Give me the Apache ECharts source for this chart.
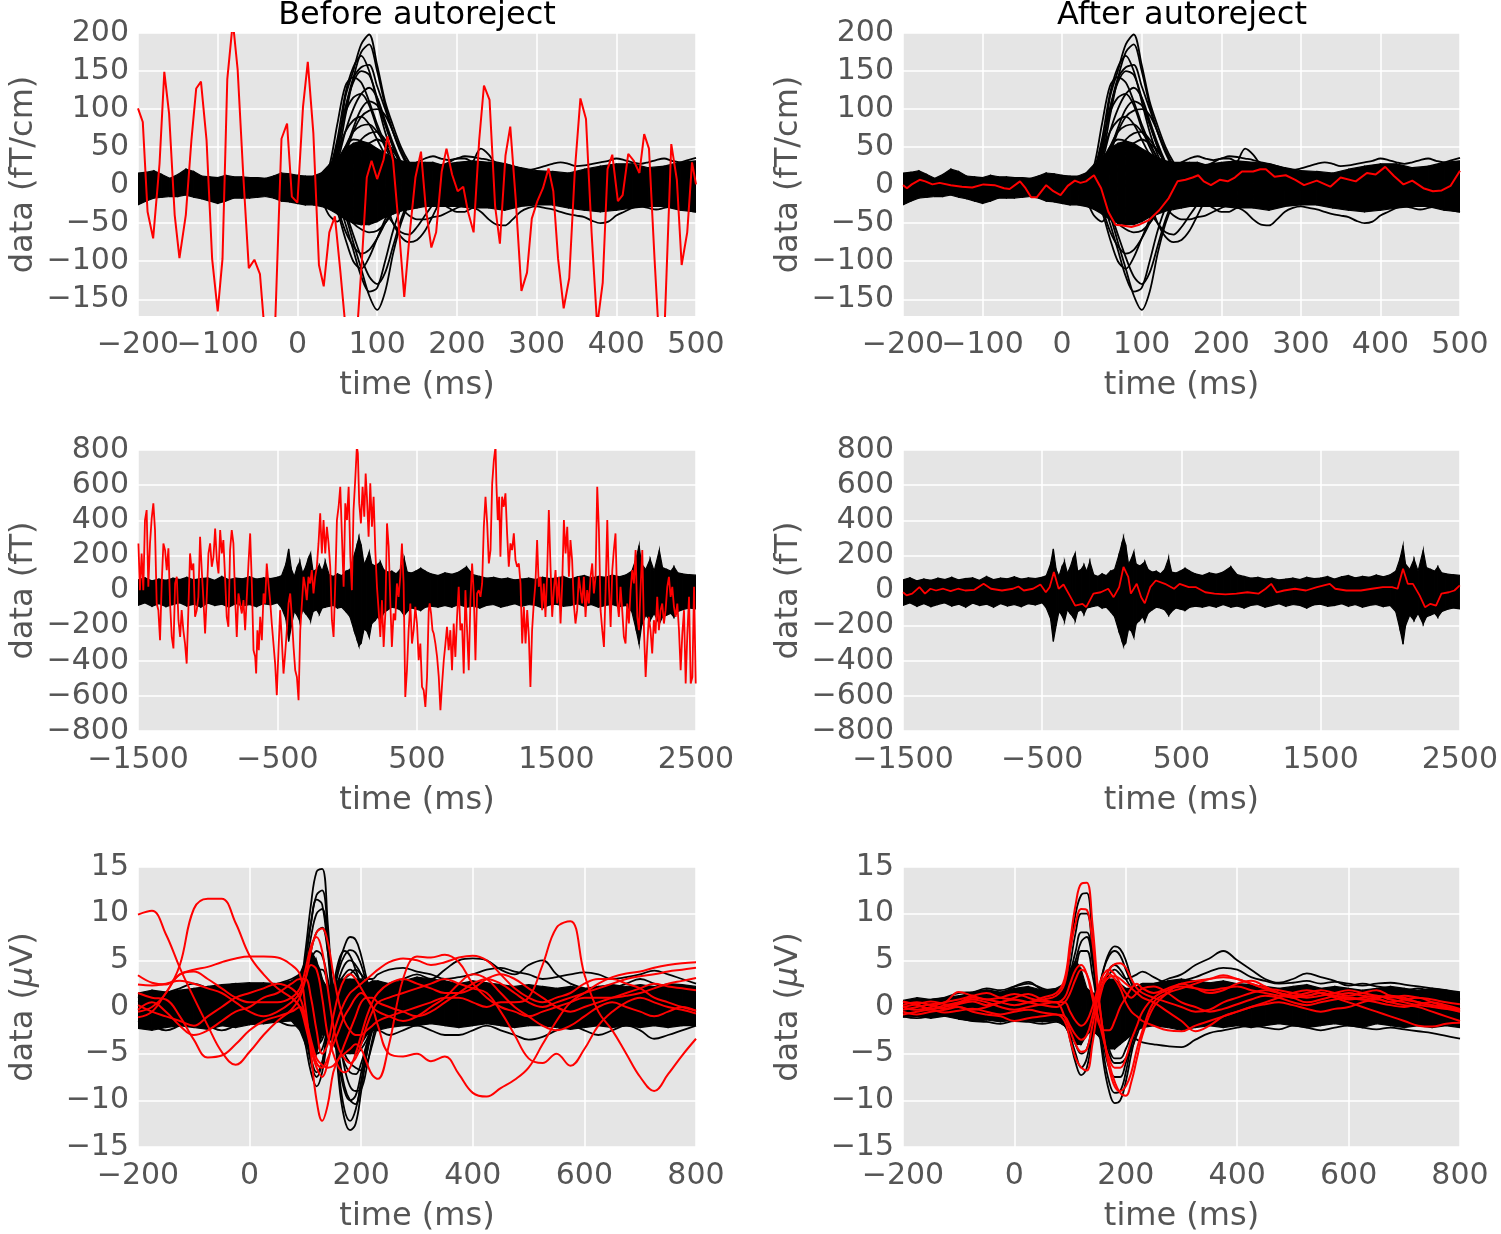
<!DOCTYPE html>
<html><head><meta charset="utf-8">
<script src="https://cdn.jsdelivr.net/npm/echarts@6/dist/echarts.min.js"></script>
<style>html,body{margin:0;padding:0;background:#fff}#c{width:1501px;height:1234px}</style>
</head><body><div id="c"></div>
<script>
// ---------------- Tick labels ----------------
const xTicksTop = [-200,-100,0,100,200,300,400,500];
const yTicksTop = [-150,-100,-50,0,50,100,150,200];
const xTicksMid = [-1500,-500,500,1500,2500];
const yTicksMid = [-800,-600,-400,-200,0,200,400,600,800];
const xTicksBot = [-200,0,200,400,600,800];
const yTicksBot = [-15,-10,-5,0,5,10,15];

// ---------------- Top row (fT/cm) ----------------
const tBandTop = [-200,-190,-180,-170,-160,-150,-140,-130,-120,-110,-100,-90,-80,-70,-60,-50,-40,-30,-20,-10,0,10,20,30,40,50,60,70,80,90,100,110,120,130,140,150,160,170,180,200,220,240,260,280,300,320,340,360,380,400,420,440,460,480,500];
const hiTop = [16,17,19,14,9,14,21,18,12,11,10,13,11,11,10,10,9,12,16,15,13,12,12,16,27,35,48,55,58,55,48,42,36,32,30,30,30,30,27,30,32,30,28,23,19,18,16,21,25,28,28,23,25,30,32];
const loTop = [-26,-21,-17,-16,-15,-15,-13,-16,-18,-21,-24,-21,-17,-17,-17,-16,-15,-17,-21,-22,-24,-26,-26,-28,-32,-38,-45,-50,-52,-52,-48,-42,-38,-34,-32,-30,-28,-28,-28,-28,-30,-30,-33,-28,-26,-26,-30,-33,-35,-33,-30,-28,-28,-33,-35];
const tLineTop = [20,30,40,50,60,70,80,90,100,110,120,130,140,150,160,170,180,190,200,210,220,230,240,250,260,270,280,290,300,310,320,330,340,350,360,370,380,390,400,410,420,430,440,450,460,470,480,490,500];
const kA1 = [5,8,15,40,115,150,185,198,158,110,78,50,30,15,8,5,10,15,20,25,20,15,10,5,0,5,10,5,0,5,5,5];
const kA2 = [0,5,20,60,120,155,170,150,110,70,40,20,5,-5,-10,-5,0,5,10,15,20,15,10,5,0,-5,-5,0,5,0,-5,0];
const kA3 = [0,3,10,50,100,140,155,158,130,100,70,45,25,10,0,0,5,10,20,25,25,20,10,5,0,0,5,10,5,0,0,0];
const kA4 = [-5,0,5,30,70,100,120,128,115,85,55,30,10,0,-5,0,5,10,15,10,5,0,-5,-10,-5,0,5,0,-5,0,0,0];
const kA5 = [0,0,5,15,40,70,90,98,100,92,70,45,25,10,5,5,10,15,20,20,15,10,5,0,0,-5,0,0,5,5,0,0];
const kA6 = [0,5,10,25,50,70,78,80,70,55,35,20,10,5,0,5,10,20,25,30,30,25,15,10,5,0,-5,0,5,10,10,5];
const kA7 = [0,0,10,30,50,60,58,50,40,30,20,10,5,0,-5,-5,0,5,10,15,30,48,40,25,10,5,0,0,5,5,5,0];
const kA8 = [0,5,25,80,130,142,135,110,80,55,35,20,10,0,-5,-5,0,5,10,15,10,5,0,0,5,5,0,-5,0,5,0,0];
const kA9 = [0,0,5,20,45,75,100,110,105,80,50,25,10,0,0,5,10,15,20,15,10,5,0,-5,0,5,5,0,0,0,0,0];
const kA10 = [0,5,10,20,30,38,42,40,38,35,30,28,25,22,20,20,25,30,35,35,30,28,25,20,15,10,5,0,5,10,10,5];
const kA11 = [0,5,15,45,100,135,150,145,115,80,50,28,12,5,0,0,5,10,15,15,10,5,0,0,5,5,0,0,0,0,0,0];
const kA12 = [0,5,15,40,70,85,90,80,60,40,25,15,5,0,-5,0,5,10,15,20,15,10,5,5,0,0,0,0,0,0,0,0];
const kA13 = [0,0,5,10,25,45,60,68,70,60,45,30,15,5,0,0,5,10,15,20,20,15,10,5,0,0,0,0,0,0,0,0];
const kA14 = [0,5,15,55,95,115,120,105,75,50,30,15,5,0,-5,-5,0,5,10,10,5,0,0,0,0,0,0,0,0,0,0,0];
const kA15 = [0,5,12,35,90,140,175,185,150,105,70,42,22,10,5,5,10,15,20,20,15,10,5,0,0,5,5,0,0,5,5,0];
const kA16 = [0,0,5,10,20,35,48,55,60,55,45,30,18,8,0,-5,0,5,10,10,5,0,0,0,0,0,0,0,0,0,0,0];
const nA1 = [0,-5,-10,-25,-40,-75,-110,-145,-164,-140,-90,-50,-25,-10,-5,0,-5,-10,-15,-20,-15,-10,-5,0,5,0,-5,-10,-5,0,-5,-5];
const nA2 = [0,-5,-10,-20,-50,-85,-120,-140,-135,-100,-60,-30,-15,-5,0,0,-5,-10,-15,-10,-5,0,5,0,-5,-10,-5,0,0,-5,0,0];
const nA3 = [0,-5,-15,-35,-70,-100,-110,-95,-70,-45,-25,-10,-5,0,5,5,0,-5,-10,-15,-20,-15,-10,-5,0,0,-5,-5,0,0,0,0];
const nA4 = [0,0,5,10,20,30,35,30,10,-20,-50,-68,-75,-72,-60,-40,-20,-10,-5,0,5,0,-5,-10,-5,0,0,0,0,0,0,0];
const nA5 = [0,0,5,15,25,30,20,5,-15,-35,-50,-62,-65,-55,-40,-25,-10,-5,0,0,-5,-10,-15,-10,-5,0,0,0,0,0,0,0];
const nA6 = [0,-5,-10,-20,-35,-50,-58,-62,-60,-50,-35,-20,-10,-5,0,0,-5,-5,0,5,5,0,-5,-5,0,0,0,0,0,0,0,0];
const nA7 = [-10,-12,-15,-20,-25,-30,-30,-25,-20,-20,-25,-30,-30,-28,-25,-25,-25,-30,-35,-35,-30,-35,-45,-52,-53,-45,-35,-30,-28,-30,-32,-35,-38,-40,-42,-47,-50,-48,-40,-35,-30,-28,-30,-32,-30,-28,-30,-33,-35];
const nA8 = [-10,-20,-40,-48,-30,-10,0,5,0,-5,-10,-10,-5,0,0,0];
const nA9 = [0,0,-5,-10,-5,0,10,15,5,-10,-20,-30,-40,-45,-45,-42,-40,-35,-30,-25,-20,-20,-15,-10,-5,0];
const nA10 = [0,-5,-10,-30,-60,-80,-90,-85,-70,-50,-30,-15,-5,0,0,0,-5,-10,-10,-5,0,0,0,0,0,0,0,0,0,0,0,0];
const nA11 = [0,0,-5,-15,-35,-65,-95,-120,-130,-115,-80,-45,-20,-5,0,0,-5,-5,0,0,0,0,0,0,0,0,0,0,0,0,0,0];
const nA12 = [0,-5,-15,-30,-40,-42,-38,-30,-20,-10,-5,0,0,0,0,0,0,0,0,0,0,0,0,0,0,0,0,0,0,0,0,0];
const pA12 = [5,8,10,12,15,20,25,30,35,30,25,20,25,30,35,38,35,33,35,38,37,35,33,30,28,25,22,20,22,25,28,30,28,25,26,28,30,32,35,33,30,28,30,33,35,32,30,33,36];
const blackTop = [kA1,kA2,kA3,kA4,kA5,kA6,kA7,kA8,kA9,kA10,kA11,kA12,kA13,kA14,kA15,kA16,nA1,nA2,nA3,nA4,nA5,nA6,nA7,nA8,nA9,nA10,nA11,nA12,pA12];

const redTopBefore = [[-200,101],[-194,83],[-188,-35],[-181,-70],[-173,28],[-167,149],[-161,94],[-154,-39],[-148,-96],[-140,-39],[-133,59],[-127,127],[-121,136],[-114,59],[-107,-97],[-100,-166],[-94,-97],[-88,139],[-81,215],[-75,152],[-68,14],[-61,-109],[-54,-98],[-47,-117],[-41,-195],[-35,-235],[-28,-185],[-20,61],[-13,81],[-7,-15],[0,-23],[7,103],[13,162],[20,68],[27,-105],[33,-133],[40,-62],[47,-41],[54,-115],[61,-195],[67,-260],[74,-205],[81,-97],[87,10],[93,32],[100,8],[108,33],[113,64],[120,32],[127,-53],[134,-147],[141,-62],[148,10],[155,44],[161,-30],[168,-82],[174,-62],[181,18],[187,48],[194,14],[201,-8],[208,-2],[214,-35],[221,-62],[228,59],[234,131],[241,112],[248,-28],[254,-77],[261,39],[267,77],[274,-21],[281,-139],[288,-115],[294,-44],[301,-21],[308,-4],[315,22],[321,-8],[327,-97],[334,-162],[341,-122],[348,19],[355,114],[362,87],[369,-62],[376,-185],[383,-128],[389,21],[395,40],[402,-21],[408,-13],[415,41],[422,32],[429,16],[435,67],[441,48],[448,-97],[454,-210],[461,-175],[469,54],[476,7],[482,-105],[489,-62],[495,30],[500,1]];
const redTopAfter = [[-200,0],[-195,-4],[-189,1],[-179,7],[-172,5],[-163,1],[-154,3],[-140,0],[-126,-2],[-113,-3],[-99,1],[-85,0],[-73,-4],[-66,-5],[-53,5],[-46,-4],[-39,-16],[-32,-16],[-20,0],[-11,-8],[-2,-13],[7,-1],[16,6],[23,3],[30,5],[40,13],[49,-4],[58,-35],[67,-52],[76,-53],[87,-55],[97,-52],[109,-46],[122,-33],[134,-17],[145,5],[155,7],[164,10],[171,13],[178,5],[187,0],[198,7],[208,5],[217,10],[226,18],[240,18],[249,21],[256,21],[267,11],[281,13],[293,7],[304,0],[320,6],[337,-2],[350,10],[369,5],[383,16],[394,14],[406,24],[417,12],[429,1],[440,6],[454,-4],[466,-8],[477,-7],[488,-1],[500,19]];

// ---------------- Middle row (fT) ----------------
const tBandMid = [-1500,-1450,-1400,-1350,-1300,-1250,-1200,-1150,-1100,-1050,-1000,-950,-900,-850,-800,-750,-700,-650,-600,-550,-500,-470,-440,-420,-400,-380,-360,-340,-320,-300,-280,-263,-245,-220,-200,-180,-158,-130,-100,-70,-40,-10,20,50,70,84,100,120,140,158,175,200,220,237,260,290,320,350,380,408,430,460,490,526,560,600,650,700,750,800,855,900,950,1000,1050,1100,1150,1200,1250,1300,1350,1400,1450,1500,1550,1600,1650,1700,1750,1800,1850,1900,1950,2000,2040,2070,2092,2110,2140,2171,2200,2237,2260,2290,2320,2342,2370,2400,2450,2500];
const hiMid = [60,72,55,65,58,70,62,75,60,68,72,58,80,62,70,66,78,65,72,68,75,85,150,237,120,80,130,165,100,130,180,212,110,120,145,110,165,90,80,95,85,110,120,200,260,302,260,150,180,221,150,140,150,164,120,105,110,95,120,183,105,100,110,126,110,95,85,100,92,105,135,90,80,70,75,65,70,60,65,70,62,75,68,70,80,65,78,85,72,80,75,88,78,90,110,180,256,150,120,178,110,229,130,120,110,135,100,95,90,87];
const loMid = [-85,-70,-90,-75,-92,-80,-70,-88,-78,-95,-72,-85,-78,-95,-75,-88,-80,-92,-75,-82,-70,-100,-160,-290,-200,-120,-140,-175,-110,-130,-150,-172,-120,-110,-135,-100,-95,-90,-85,-100,-95,-120,-150,-230,-280,-315,-300,-220,-230,-267,-190,-170,-150,-175,-130,-110,-95,-100,-110,-142,-120,-100,-105,-114,-95,-90,-95,-85,-95,-80,-95,-88,-100,-85,-80,-95,-85,-75,-90,-80,-85,-100,-82,-78,-90,-85,-75,-90,-80,-95,-85,-80,-92,-85,-120,-220,-306,-200,-140,-171,-130,-191,-150,-140,-130,-152,-120,-110,-100,-105];
const redMidBefore = [[-1497,268],[-1486,2],[-1474,211],[-1462,2],[-1450,401],[-1438,458],[-1426,21],[-1414,268],[-1402,410],[-1390,496],[-1378,344],[-1366,-74],[-1354,-112],[-1342,-283],[-1330,40],[-1318,268],[-1306,230],[-1294,116],[-1282,240],[-1270,-74],[-1258,-264],[-1246,-330],[-1234,40],[-1222,78],[-1210,-169],[-1198,-264],[-1187,-112],[-1175,-226],[-1163,-302],[-1151,-416],[-1139,-112],[-1127,211],[-1115,116],[-1103,154],[-1091,-150],[-1079,-112],[-1067,-36],[-1055,306],[-1043,116],[-1031,-55],[-1019,-245],[-1007,-36],[-995,211],[-983,268],[-971,135],[-959,192],[-947,353],[-935,173],[-923,97],[-911,344],[-899,211],[-888,287],[-876,78],[-864,-150],[-852,-207],[-840,230],[-828,344],[-816,268],[-804,-36],[-792,-264],[-780,-17],[-768,-74],[-756,-131],[-744,-55],[-732,-226],[-720,-36],[-708,154],[-696,325],[-684,40],[-672,-340],[-660,-378],[-653,-473],[-644,-226],[-634,-340],[-624,-150],[-612,-283],[-600,-17],[-589,-74],[-577,154],[-565,40],[-553,-55],[-541,-188],[-529,-302],[-517,-416],[-505,-596],[-493,-340],[-481,-112],[-469,-283],[-457,-473],[-445,-359],[-433,-226],[-421,-74],[-409,-17],[-397,-150],[-385,-321],[-373,-454],[-361,-492],[-349,-625],[-337,-226],[-325,-74],[-313,78],[-301,21],[-290,-55],[-278,78],[-266,40],[-254,116],[-242,-17],[-230,78],[-218,135],[-206,268],[-194,439],[-182,211],[-170,401],[-158,211],[-146,363],[-134,268],[-122,135],[-110,-169],[-98,-264],[-86,40],[-74,401],[-62,477],[-50,591],[-38,306],[-26,21],[-14,496],[-2,401],[10,591],[22,192],[33,2],[45,458],[57,628],[69,820],[76,781],[86,496],[98,382],[110,591],[122,420],[132,666],[141,534],[153,306],[165,610],[177,363],[189,534],[201,230],[213,21],[225,-112],[237,-264],[249,-55],[261,-321],[273,-131],[285,382],[297,249],[309,-74],[320,-321],[332,-131],[344,-169],[356,40],[368,-36],[380,78],[392,268],[404,40],[416,-606],[428,-454],[440,-226],[452,-74],[464,-302],[476,-226],[488,-93],[500,-188],[512,-397],[524,-302],[536,-549],[548,-568],[560,-663],[572,-492],[584,-112],[591,-74],[601,-131],[611,-226],[620,-245],[632,-302],[644,-378],[656,-492],[668,-682],[680,-530],[692,-397],[704,-302],[715,-207],[727,-340],[739,-226],[751,-454],[763,-188],[775,-378],[787,-150],[799,21],[811,-226],[823,-188],[835,-473],[847,2],[859,-226],[871,-454],[883,-55],[895,154],[907,-17],[919,-397],[931,-17],[943,2],[955,-36],[967,40],[979,363],[991,534],[1003,382],[1015,154],[1027,230],[1039,610],[1051,742],[1063,820],[1069,610],[1079,401],[1089,534],[1098,192],[1110,534],[1122,477],[1134,553],[1146,325],[1158,135],[1170,268],[1182,230],[1194,325],[1206,173],[1218,135],[1230,154],[1242,40],[1254,-302],[1266,-93],[1278,-302],[1290,-112],[1302,-264],[1313,-549],[1325,-226],[1337,-74],[1349,40],[1361,287],[1373,21],[1385,78],[1397,-112],[1409,40],[1421,-150],[1433,97],[1445,458],[1457,135],[1469,-150],[1481,2],[1493,116],[1505,-74],[1517,78],[1529,-188],[1541,40],[1553,401],[1565,211],[1577,363],[1589,78],[1600,287],[1612,173],[1624,-74],[1636,-188],[1648,-112],[1660,78],[1672,2],[1684,-74],[1696,78],[1708,-150],[1720,2],[1732,-74],[1744,78],[1756,154],[1768,-17],[1780,78],[1792,591],[1804,344],[1816,-112],[1828,-226],[1840,-321],[1852,2],[1864,401],[1876,21],[1888,-207],[1900,116],[1911,230],[1923,325],[1935,-55],[1947,-150],[1959,21],[1971,-112],[1983,-264],[1995,-302],[2007,-74],[2019,-188],[2031,2],[2043,116],[2055,40],[2067,230],[2079,-150],[2091,-226],[2103,21],[2115,230],[2127,-226],[2139,-492],[2151,-302],[2162,-150],[2174,-226],[2186,-359],[2198,-169],[2210,-245],[2222,-36],[2234,-226],[2246,-112],[2258,-74],[2270,-188],[2282,-112],[2294,21],[2306,78],[2318,-36],[2330,21],[2342,-93],[2354,-150],[2366,-74],[2378,-226],[2390,-454],[2402,-245],[2414,-112],[2426,-530],[2438,-245],[2450,-36],[2462,-530],[2474,-492],[2486,21],[2498,-530]];
const redMidAfter = [[-1500,-10],[-1474,-28],[-1434,-18],[-1382,19],[-1342,-18],[-1303,10],[-1263,0],[-1211,10],[-1158,-4],[-1105,10],[-1053,0],[-987,4],[-921,38],[-868,10],[-789,0],[-711,10],[-671,23],[-632,0],[-566,10],[-513,34],[-474,-10],[-447,19],[-416,105],[-382,10],[-347,34],[-303,-28],[-263,-86],[-211,-76],[-184,-95],[-132,-18],[-79,-10],[-26,10],[13,-38],[53,19],[84,134],[118,77],[137,-18],[179,38],[211,-38],[237,-73],[276,19],[316,57],[382,38],[447,10],[487,38],[553,19],[605,19],[671,-10],[737,-18],[816,-22],[895,-18],[974,-10],[1053,-18],[1105,10],[1145,38],[1184,-10],[1237,0],[1316,10],[1395,0],[1474,19],[1566,38],[1605,10],[1684,0],[1789,0],[1868,10],[1947,19],[2013,19],[2053,10],[2092,124],[2126,38],[2163,38],[2211,-28],[2250,-95],[2289,-76],[2329,-86],[2368,-18],[2421,-10],[2461,0],[2500,29]];

// ---------------- Bottom row (uV) ----------------
const tBot = [-200,-175,-150,-125,-100,-75,-50,-25,0,25,50,75,90,100,110,120,130,140,150,160,170,180,190,200,210,220,230,250,275,300,325,350,375,400,425,450,475,500,525,550,575,600,625,650,675,700,725,750,775,800];
const hiBotBefore = [1.5,1.8,1.6,1.8,2.0,2.2,2.4,2.5,2.6,2.6,2.5,2.8,3.5,5,6,5,3,2,2,3,3,3,3,3,2.5,2.8,2.8,2.5,2.8,3.2,3.0,2.8,2.5,2.8,2.6,2.4,2.2,2.4,2.2,2.0,2.2,2.0,2.2,2.4,2.2,2.4,2.2,2.5,2.4,2.2];
const loBotBefore = [-2.3,-2.5,-2.2,-2.0,-2.2,-2.4,-2.0,-2.2,-1.9,-1.8,-1.6,-1.5,-2.5,-4,-5,-5,-3,-3,-4,-5,-5,-5,-5,-4,-3,-2.5,-2.5,-2.2,-2.0,-2.0,-1.8,-2.0,-2.2,-2.0,-1.8,-2.0,-2.2,-2.0,-2.0,-2.2,-2.4,-2.2,-2.0,-2.2,-2.0,-2.2,-2.0,-2.2,-2.0,-2.0];
const hiBotAfter = [0.7,1.0,0.8,1.0,1.2,1.5,1.8,1.6,2.0,2.2,1.8,2.0,2.5,4,5,4,2,1.5,1.5,2.5,3,3,2.5,2,2,2.2,2.5,2.5,2.8,3.0,2.8,2.6,2.8,2.5,2.4,2.2,2.0,2.2,2.4,2.0,2.2,2.0,1.8,2.0,2.2,2.0,1.8,2.0,1.8,1.5];
const loBotAfter = [-1.1,-1.0,-1.2,-1.0,-1.3,-1.5,-1.4,-1.6,-1.4,-1.5,-1.6,-1.5,-2.0,-3,-4,-4,-3,-2.5,-3,-4,-4.5,-4.5,-4,-3.5,-3,-2.5,-2.2,-2.0,-2.2,-2.5,-2.2,-2.0,-2.2,-2.0,-2.2,-2.0,-1.8,-2.0,-2.2,-2.0,-1.8,-2.0,-2.2,-1.8,-2.0,-2.2,-2.0,-2.2,-2.0,-2.2];
const tPkBot = [75,90,100,110,120,130,140,150,160,170,180,190,200,210,220,230,250];
const kC1 = [0,2,6,11,14.5,14.8,9,0,-8,-12,-13.2,-12.5,-9,-5,-2,-0.5,0];
const kC2 = [0,1.5,5,9,12,12.5,8,0,-7,-11,-12.2,-11,-8,-4.5,-2,-0.5,0];
const kC3 = [0,1,4,7.5,10,10.5,7,1,-5,-8.5,-10,-10.4,-8,-5,-2.5,-1,0];
const kC4 = [0,1,3,6,8,8.5,6,1.5,-3,-6.5,-8.5,-9,-8.8,-6.5,-3.5,-1.5,0];
const kC5 = [0,-1.5,-4,-7,-8.5,-7,-3,1,4.5,6.5,7.5,7.2,5.5,3,1,0,0];
const kC6 = [0,-1,-3,-5.5,-7,-6,-2.5,1,4,5.5,6.1,5.8,4.5,2.5,1,0,0];
const kC7 = [0,1,3,5,6,5.5,3,0,-3,-5,-6,-6.5,-6.8,-6,-4,-2,0];
const kC8 = [0,-1,-2.5,-4,-5,-4.5,-2,1,3,4.5,5,4.5,3.5,2,1,0.5,0];
const kC9 = [0,0.5,2,4,4.5,3,1,-2,-4,-6,-7,-7.2,-6,-4,-2.5,-1,0];
const kC10 = [0,0.5,1.5,3,4,4,2.5,0,-2,-3.5,-4.5,-5,-4.5,-3.5,-2,-1,0];
const kC11 = [0,-0.5,-1.5,-3,-4,-3.5,-1.5,0.5,2.5,3.5,4,3.5,2.5,1.5,0.5,0,0];
const kC12 = [0,2,5,9,11.5,11,6,-1,-6,-9,-10,-9.5,-7,-4,-2,-0.5,0];
const kC13 = [0,-1,-3,-6,-7.5,-6,-2,2,5,6,5.5,4,2.5,1.5,0.5,0,0];
const kCL1 = [1,1.5,1,0.5,1,1.5,2,2.5,2,1.5,1,1.5,2,3,4,3,1,0,0,1,2,2.5,2,1.5,1,1.5,2,2.5,3,3.5,3,4,5,5.2,5,4,3.5,4.5,5,3.5,2.5,2,1.5,2,2.5,3,2.5,2,1.5,1.5];
const kCL2 = [-1.5,-2,-2.5,-2,-1.5,-2,-2.5,-2,-1.5,-1,-1.5,-2,-2,-3,-4,-3,-2,-2,-3,-4,-4,-3,-2.5,-2,-2,-2.5,-2.5,-3,-2.5,-2,-2.5,-3,-3,-2.5,-2,-2.5,-3,-3.5,-3.2,-2.5,-2,-2.5,-3,-2.5,-2,-2.5,-3.4,-3,-2.5,-2];
const kCL3 = [0.5,1,1.5,2,2.5,2,1.5,1,1.5,2,2.5,3,3.5,4,3,1,-1,0,1,2,3,3.5,4,3.5,3,3,3.5,4,4.2,3.8,3.5,3,3.2,3.5,4,4.2,3.8,3.5,3,3.2,3.5,3.7,3.5,3,3.2,3.5,3.9,3.5,3,2.5];
const rC1 = [9.9,10.3,7.8,4.2,1.0,-2.0,-4.8,-6.2,-4.8,-3.0,-1.5,-0.3,1.0,3.0,6.0,8.0,8.4,7.0,3.5,0.5,-1.5,-2.5,-3.0,-3.0,-2.5,-2.0,-1.5,-1.0,-0.5,0,0.5,1.0,1.0,0.5,0,0.5,0.5,1.0,4.5,8.5,9.2,3.5,-0.5,-2.5,-5.0,-7.5,-9.0,-7.2,-5.2,-3.4];
const rC2 = [-0.5,0,1.5,4.5,10.5,11.6,11.6,9.0,5.5,3.5,2.0,1.0,0,-2.0,-4.5,-6.5,-7.5,-6.0,-3.0,-1.0,0.5,1.5,2.0,2.5,3.0,3.5,4.0,4.8,5.2,5.0,4.5,4.8,5.3,5.5,5.0,3.5,2.0,1.0,0.5,1.0,1.5,2.5,3.0,3.0,2.5,2.0,1.0,0.5,0,-0.4];
const rC3 = [3.4,2.6,2.4,3.5,4.0,4.3,4.8,5.2,5.4,5.4,5.3,4.5,3.5,0,-5.0,-10.0,-12.2,-10.5,-7.0,-5.5,-5.0,-4.5,-4.0,-4.5,-6.0,-7.3,-7.7,-4.0,3.0,5.4,5.3,5.6,4.8,2.5,1.0,0,-0.5,-1.0,-0.5,0,0.5,1.0,1.0,1.0,1.2,1.5,2.0,2.5,2.8,3.1];
const rC4 = [1.5,1.0,0.8,-1.0,-3.5,-5.4,-5.2,-4.0,-2.5,-1.5,-1.0,-0.5,0,-1.5,-4.0,-6.0,-6.5,-5.5,-4.0,-2.5,-1.0,0,1.0,1.5,1.0,0,-2.0,-5.0,-5.3,-5.0,-5.8,-5.3,-7.2,-9.2,-9.6,-8.7,-7.8,-6.5,-4.0,-1.5,0.5,1.5,2.5,3.2,3.6,3.8,4.2,4.5,4.7,4.8];
const rC5 = [-1.1,-0.5,1.5,3.5,3.8,3.0,2.0,1.0,0.5,0.5,0.5,1.0,2.0,4.0,6.5,7.5,6.0,2.0,-2.0,-4.5,-5.5,-6.0,-5.5,-4.0,-2.0,-0.5,0.5,1.0,1.5,2.0,2.5,3.0,2.5,2.0,1.5,-0.5,-3.0,-5.5,-6.0,-5.0,-6.3,-4.5,-2.0,-0.5,0.5,1.0,0.5,0,-0.3,-0.7];
const rC6 = [2.4,2.3,2.5,2.8,2.5,2.0,1.5,0.5,-0.5,-1.0,-0.5,0.5,1.5,3.0,4.5,4.0,1.0,-3.0,-5.0,-6.5,-7.0,-6.5,-5.0,-3.0,-1.0,0.5,1.5,2.5,3.0,2.5,2.0,1.5,1.5,2.0,3.0,3.5,3.0,2.0,1.0,0,-0.5,0,0.5,1.0,1.5,2.0,2.5,2.2,2.0,1.8];
const rC7 = [0.2,-0.5,-1.0,-1.5,-2.0,-1.0,0,1.0,1.5,2.0,2.5,2.0,1.0,-1.0,-3.5,-5.5,-6.2,-6.5,-6.3,-5.5,-4.0,-2.5,-1.0,0.5,1.0,1.0,0.5,0,-0.5,-1.0,-0.5,0.5,1.5,2.5,3.0,2.5,1.5,0.5,0,0.5,1.0,1.5,2.0,2.5,3.0,3.3,3.5,3.8,4.0,4.2];
const rC8 = [-0.3,0.5,-0.5,-2.0,-3.0,-2.5,-1.5,-0.5,0,1.0,1.5,2.5,3.0,3.0,1.0,-2.5,-5.0,-4.0,-1.0,1.5,3.0,3.5,3.0,2.0,1.0,0,-0.5,-1.0,-1.5,-1.0,0,1.0,2.5,3.5,3.0,1.5,0,-1.0,-2.0,-2.5,-2.0,-1.0,0,0.5,0,-0.5,-1.0,-0.5,0,-0.4];
const kR1 = [0,2,6,10,12,12.2,7,-1,-6,-9,-10.3,-10,-8,-5,-2.5,-1,0];
const kR2 = [0,1.5,4.5,8,10,10,6,-0.5,-5,-8,-9.2,-9,-7,-4,-2,-0.5,0];
const kR3 = [0,1,3.5,6,8,8,5,0,-4,-6.5,-7.5,-7.5,-6,-4,-2,-1,0];
const kR4 = [0,-1,-3.5,-6,-7.3,-6.5,-3,1,4,5.8,6.5,6.2,5,3,1.5,0.5,0];
const kR5 = [0,-1,-3,-5,-6.5,-5.5,-2,1.5,4,5.5,6,5.5,4,2.5,1,0,0];
const kR6 = [0,0.5,2,4,6,6,3.5,0,-2.5,-4.5,-5.5,-5.5,-4.5,-3,-1.5,-0.5,0];
const kR7 = [0,-0.5,-2,-4,-5,-4.5,-2,0.5,2.5,4,4.5,4,3,2,1,0.5,0];
const kR8 = [0,1,3,5,7,7.5,5,1,-3,-5,-6,-6,-5.5,-4.5,-3,-1.5,0];
const kRL1 = [0.5,0.8,0.6,0.5,1.0,1.5,2.0,1.8,2.2,2.5,2.0,1.5,1.0,2,3,2,1,0.5,1,1.5,2,2.5,2,1.5,1.5,2,2.5,2.5,3.0,3.5,4.5,5.2,6.0,5.0,4.0,3.0,2.6,3.0,3.6,3.2,2.8,2.3,2.5,2.2,2.0,1.8,2.0,1.6,1.2,0.8];
const kRL2 = [-1.0,-1.2,-1.0,-0.8,-1.2,-1.5,-1.6,-1.8,-1.5,-1.6,-1.8,-1.6,-2,-3,-3.5,-3,-2,-2.5,-3,-3.5,-3.8,-3.5,-3.2,-3.0,-3.2,-3.5,-3.8,-4.0,-4.2,-4.3,-3.5,-2.8,-2.5,-2.2,-2.0,-2.2,-2.4,-2.0,-2.2,-2.5,-2.2,-2.0,-2.2,-2.4,-2.2,-2.4,-2.6,-2.8,-3.1,-3.4];
const kRL3 = [0.5,0.6,0.8,1.0,1.5,1.6,1.8,1.5,2.2,2.7,1.8,1.5,1.5,2.5,3.5,3,1.5,1,1.5,2.5,3.5,4,3.5,3,3.2,3.5,3.8,3.2,2.6,2.8,3.2,3.8,4.2,4.0,3.2,2.8,2.5,2.6,2.8,2.5,2.7,2.5,2.3,2.5,2.6,2.4,2.2,2.0,1.8,1.6];
const rR1 = [0.5,0.3,-0.2,0.2,0.5,1.0,0.8,0.5,0.2,0.5,1.0,1.5,3,7,11,13.2,13.3,9,2,-3,-6,-8,-9.2,-9.5,-8,-5.5,-3,0,1.5,2.5,2.0,1.5,1.8,2.5,2.8,2.2,1.5,1.2,1.5,1.8,1.5,1.2,1.5,1.8,1.2,0.8,0.5,0.2,0,-0.3];
const rR2 = [0,-0.3,0,0.5,0.8,1.2,1.5,1.0,0.8,0.5,0.8,1.2,2.5,6,9,10.5,10.4,7,1.5,-3,-6.5,-8.5,-9,-8.5,-7,-4.5,-2.5,0.5,1.5,2.0,2.5,3.0,3.2,3.0,2.5,2.0,1.5,1.0,1.2,1.5,1.2,1.0,0.8,1.0,1.2,1.0,0.5,0.2,-0.2,-0.5];
const rR3 = [-0.5,-0.8,-0.5,-0.3,0,-0.5,-0.8,-1.0,-1.5,-1.2,-1.0,-0.8,-1.5,-3.5,-5.5,-6.5,-6.8,-4,0,2.5,4,4.6,4.7,4.2,3,2,1.5,1.0,0.5,0,-0.5,-0.3,0.5,1.0,1.5,1.8,1.5,1.2,1.0,1.2,1.5,1.8,1.5,1.2,1.0,1.2,1.0,0.8,0.5,0.3];
const rR4 = [-0.3,0,0.3,0.5,1.6,1.2,0.8,1.0,1.4,1.0,0.6,0.5,-1,-2.5,-4,-4.8,-4.5,-2,1,2.5,3.2,3.3,3,2.5,2,1.5,1,0.5,-0.5,-1.5,-2.6,-2.0,-1.0,-0.5,0,0.5,1.0,1.5,1.8,1.5,1.0,0.5,0,-0.5,-1.0,-1.5,-2.0,-2.1,-1.8,-1.7];
const rR5 = [0.2,0.5,0.2,-0.2,0.3,0.6,0.2,0.5,1.0,1.4,0.8,0.5,1,2.5,4,4.5,3.5,1,-1.5,-2.5,-2.5,-1.5,0,1,2,2.5,2,1.5,2.0,2.5,2.8,3.0,3.4,3.0,2.5,2.0,1.8,1.5,1.2,1.5,1.2,0.8,1.0,1.2,0.8,0.5,0.2,0,-0.2,-0.3];
const rR6 = [-0.8,-0.5,-0.3,-0.6,-0.4,-0.2,-0.5,-0.8,-0.5,-0.3,-0.6,-0.8,-1,-2,-3,-3.5,-3,-1,1.5,3,3.5,3,2,0.5,-0.5,-1,-1.5,-2.0,-2.5,-2.6,-2.0,-1.5,-1.0,-0.5,0,0.3,0.5,0.2,-0.2,-0.5,-0.2,0,0.5,0.8,0.5,0.2,0,-0.5,-1.0,-1.5];
const rR7 = [0,0.3,0.6,0.3,0,-0.3,0,0.5,0.8,0.5,0.2,0,0.5,1.5,3,4,3.5,1.5,-1,-3.5,-5.5,-6.5,-6.5,-5.5,-3.5,-2,-0.5,1.0,1.8,2.2,2.0,1.8,2.0,2.2,1.8,1.5,1.2,1.0,0.5,0.8,1.2,1.5,1.2,1.0,0.5,0.8,1.0,0.5,0,-0.5];
const rR8 = [0.6,0.2,-0.2,0,0.4,0.8,0.5,0,-0.3,0,0.3,0.5,0.5,-0.5,-1.5,-2,-1.5,0,2,3.5,4,3.5,2.5,1.5,1,1.5,2,2.2,1.5,0.5,0,-0.5,-0.2,0.3,0.8,1.2,1.0,0.5,0.2,0.5,0.8,1.0,0.8,0.5,0.2,0,0.3,0.5,0.2,-0.2];

// ---------------- Build chart ----------------
const FONT = 'DejaVu Sans';
const GRAY = '#555555';
const BLACK = '#000000';
const RED = '#ff0000';
function zip(ts, vs){ const out=[]; for(let i=0;i<vs.length;i++) out.push([ts[i], vs[i]]); return out; }
const fmt = v => String(v).replace('-', '\u2212');

const gridPos = [
  [138,33,558,283],[903,33,557,283],
  [138,450,558,281],[903,450,557,281],
  [138,867,558,281],[903,867,557,281]
];
const grid = gridPos.map(p => ({left:p[0], top:p[1], width:p[2], height:p[3], show:true, backgroundColor:'#E5E5E5', borderWidth:0}));

const labelStyle = {fontFamily:FONT, fontSize:30, color:GRAY};
const nameStyle = {fontFamily:FONT, fontSize:32, color:GRAY, rich:{i:{fontFamily:FONT, fontSize:32, color:GRAY, fontStyle:'italic'}}};
const split = {show:true, lineStyle:{color:'#ffffff', width:1.5}};
function mkX(i, min, max, ticks, labelTicks){
  return {type:'value', gridIndex:i, position:'bottom', min, max, name:'time (ms)', nameLocation:'middle', nameGap:54, nameTextStyle:nameStyle,
    axisLine:{show:false}, axisTick:{show:false, customValues:ticks},
    axisLabel:Object.assign({customValues:labelTicks||ticks, formatter:fmt, margin:14, hideOverlap:false, showMinLabel:true, showMaxLabel:true}, labelStyle),
    splitLine:split};
}
function mkXExtra(i, min, max, labelTicks){
  return {type:'value', gridIndex:i, position:'bottom', offset:0, min, max,
    axisLine:{show:false}, axisTick:{show:false, customValues:labelTicks},
    axisLabel:Object.assign({customValues:labelTicks, formatter:fmt, margin:14, showMinLabel:true, showMaxLabel:true}, labelStyle),
    splitLine:{show:false}};
}
function mkY(i, min, max, ticks, name){
  return {type:'value', gridIndex:i, min, max, name, nameLocation:'middle', nameGap:98, nameTextStyle:nameStyle,
    axisLine:{show:false}, axisTick:{show:false, customValues:ticks},
    axisLabel:Object.assign({customValues:ticks, formatter:fmt, margin:9, hideOverlap:false, showMinLabel:true, showMaxLabel:true}, labelStyle),
    splitLine:split};
}
const topLabelsMain = xTicksTop.slice(1);
const topLabelsFirst = xTicksTop.slice(0,1);
const xAxis = [
  mkX(0,-200,500,xTicksTop,topLabelsMain), mkX(1,-200,500,xTicksTop,topLabelsMain),
  mkX(2,-1500,2500,xTicksMid), mkX(3,-1500,2500,xTicksMid),
  mkX(4,-200,800,xTicksBot), mkX(5,-200,800,xTicksBot),
  mkXExtra(0,-200,500,topLabelsFirst), mkXExtra(1,-200,500,topLabelsFirst)
];
const yAxis = [
  mkY(0,-172,200,yTicksTop,'data (fT/cm)'), mkY(1,-172,200,yTicksTop,'data (fT/cm)'),
  mkY(2,-800,800,yTicksMid,'data (fT)'), mkY(3,-800,800,yTicksMid,'data (fT)'),
  mkY(4,-15,15,yTicksBot,'data ({i|\u03bc}V)'), mkY(5,-15,15,yTicksBot,'data ({i|\u03bc}V)')
];

const series = [];
// dense channel bundle: filled between lower and upper envelope, drawn segment by segment through the axes
function band(i, ts, lo, hi){
  const rows = ts.map((t,k)=>[t, lo[k], hi[k]]);
  series.push({type:'custom', xAxisIndex:i, yAxisIndex:i, data:rows, z:2, silent:true, clip:true,
    encode:{x:0, y:[1,2]},
    renderItem:function(params, api){
      const k = params.dataIndex;
      if (k >= rows.length-1) return null;
      const a = rows[k], b = rows[k+1];
      const pts = [api.coord([a[0],a[2]]), api.coord([b[0],b[2]]), api.coord([b[0],b[1]]), api.coord([a[0],a[1]])];
      return {type:'polygon', shape:{points:pts}, style:{fill:BLACK, stroke:BLACK, lineWidth:1.2}};
    }});
}
function line(i, data, color, width, smooth, z){
  series.push({type:'line', xAxisIndex:i, yAxisIndex:i, data, symbol:'none', silent:true, smooth:smooth||false, z:z||3,
    lineStyle:{color, width}});
}
for (const i of [0,1]) {
  band(i, tBandTop, loTop, hiTop);
  blackTop.forEach(v => line(i, zip(tLineTop, v), BLACK, 1.8, 0.3));
}
line(0, redTopBefore, RED, 2, false, 5);
line(1, redTopAfter, RED, 2, false, 5);
band(2, tBandMid, loMid, hiMid);
band(3, tBandMid, loMid, hiMid);
line(2, redMidBefore, RED, 1.8, false, 5);
line(3, redMidAfter, RED, 1.8, false, 5);
band(4, tBot, loBotBefore, hiBotBefore);
[kC1,kC2,kC3,kC4,kC5,kC6,kC7,kC8,kC9,kC10,kC11,kC12,kC13].forEach(v => line(4, zip(tPkBot, v), BLACK, 1.8, 0.4));
[kCL1,kCL2,kCL3].forEach(v => line(4, zip(tBot, v), BLACK, 1.8, 0.4));
[rC1,rC2,rC3,rC4,rC5,rC6,rC7,rC8].forEach(v => line(4, zip(tBot, v), RED, 2, 0.4, 5));
band(5, tBot, loBotAfter, hiBotAfter);
[kR1,kR2,kR3,kR4,kR5,kR6,kR7,kR8].forEach(v => line(5, zip(tPkBot, v), BLACK, 1.8, 0.4));
[kRL1,kRL2,kRL3].forEach(v => line(5, zip(tBot, v), BLACK, 1.8, 0.4));
[rR1,rR2,rR3,rR4,rR5,rR6,rR7,rR8].forEach(v => line(5, zip(tBot, v), RED, 2, 0.4, 5));

const chart = echarts.init(document.getElementById('c'), null, {renderer:'canvas', width:1501, height:1234});
chart.setOption({
  animation:false,
  backgroundColor:'#ffffff',
  grid, xAxis, yAxis, series,
  graphic:[
    {type:'text', x:417, y:16, style:{text:'Before autoreject', font:'32px "DejaVu Sans"', fill:'#000', align:'center', verticalAlign:'middle'}},
    {type:'text', x:1182, y:16, style:{text:'After autoreject', font:'32px "DejaVu Sans"', fill:'#000', align:'center', verticalAlign:'middle'}}
  ]
});
</script></body></html>
